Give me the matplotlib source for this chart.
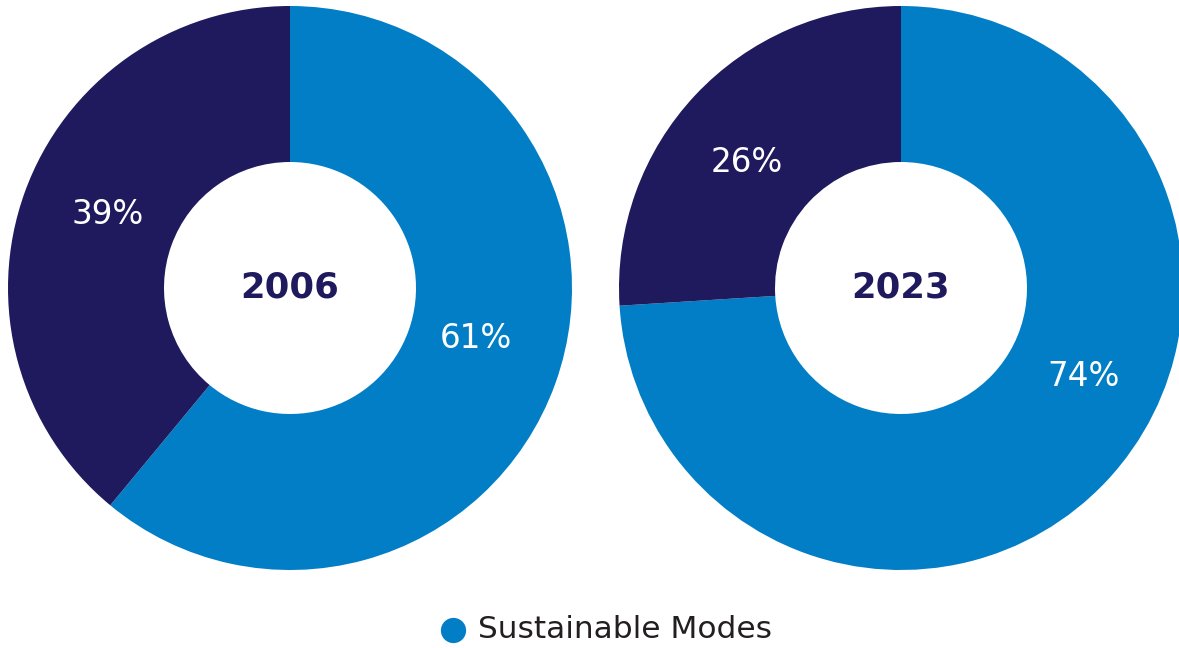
import matplotlib.pyplot as plt

# mode share, sustainable vs other
years = ["2006", "2023"]
sustainable = [61, 74]
other = [39, 26]
legend_label = "Sustainable Modes"

BLUE = "#027EC6"
NAVY = "#1F195E"
TEXT = "#231F20"

W, H = 1179, 648
fig = plt.figure(figsize=(W / 100, H / 100), dpi=100)
ax = fig.add_axes([0, 0, 1, 1])

outer_r = 282
inner_r = 126
centers = [(290, H - 288), (901, H - 288)]
# label spots (pixel coords, y measured from top) for sustainable / other
label_pos = [((476, 338), (108, 215)), ((1084, 376), (747, 163))]

for i, year in enumerate(years):
    cx, cy = centers[i]
    ax.pie([sustainable[i], other[i]], colors=[BLUE, NAVY], startangle=90,
           counterclock=False, center=(cx, cy), radius=outer_r,
           wedgeprops=dict(width=outer_r - inner_r, linewidth=0),
           frame=True)
    ax.text(cx, cy, year, ha="center", va="center", fontsize=25.5,
            fontweight="bold", color=NAVY, family="DejaVu Sans")
    for val, (lx, ly) in zip([sustainable[i], other[i]], label_pos[i]):
        ax.text(lx, H - ly, f"{val}%", ha="center", va="center", fontsize=23.5,
                color="white", family="DejaVu Sans")

# full-figure pixel coordinates
ax.set_xlim(0, W)
ax.set_ylim(0, H)
ax.set_aspect("equal")
ax.axis("off")

ax.scatter([453], [H - 630], s=330, color=BLUE, linewidths=0)
ax.text(478, H - 629, legend_label, ha="left", va="center", fontsize=22.5,
        color=TEXT, family="DejaVu Sans")

fig.savefig("out.png", dpi=100)
